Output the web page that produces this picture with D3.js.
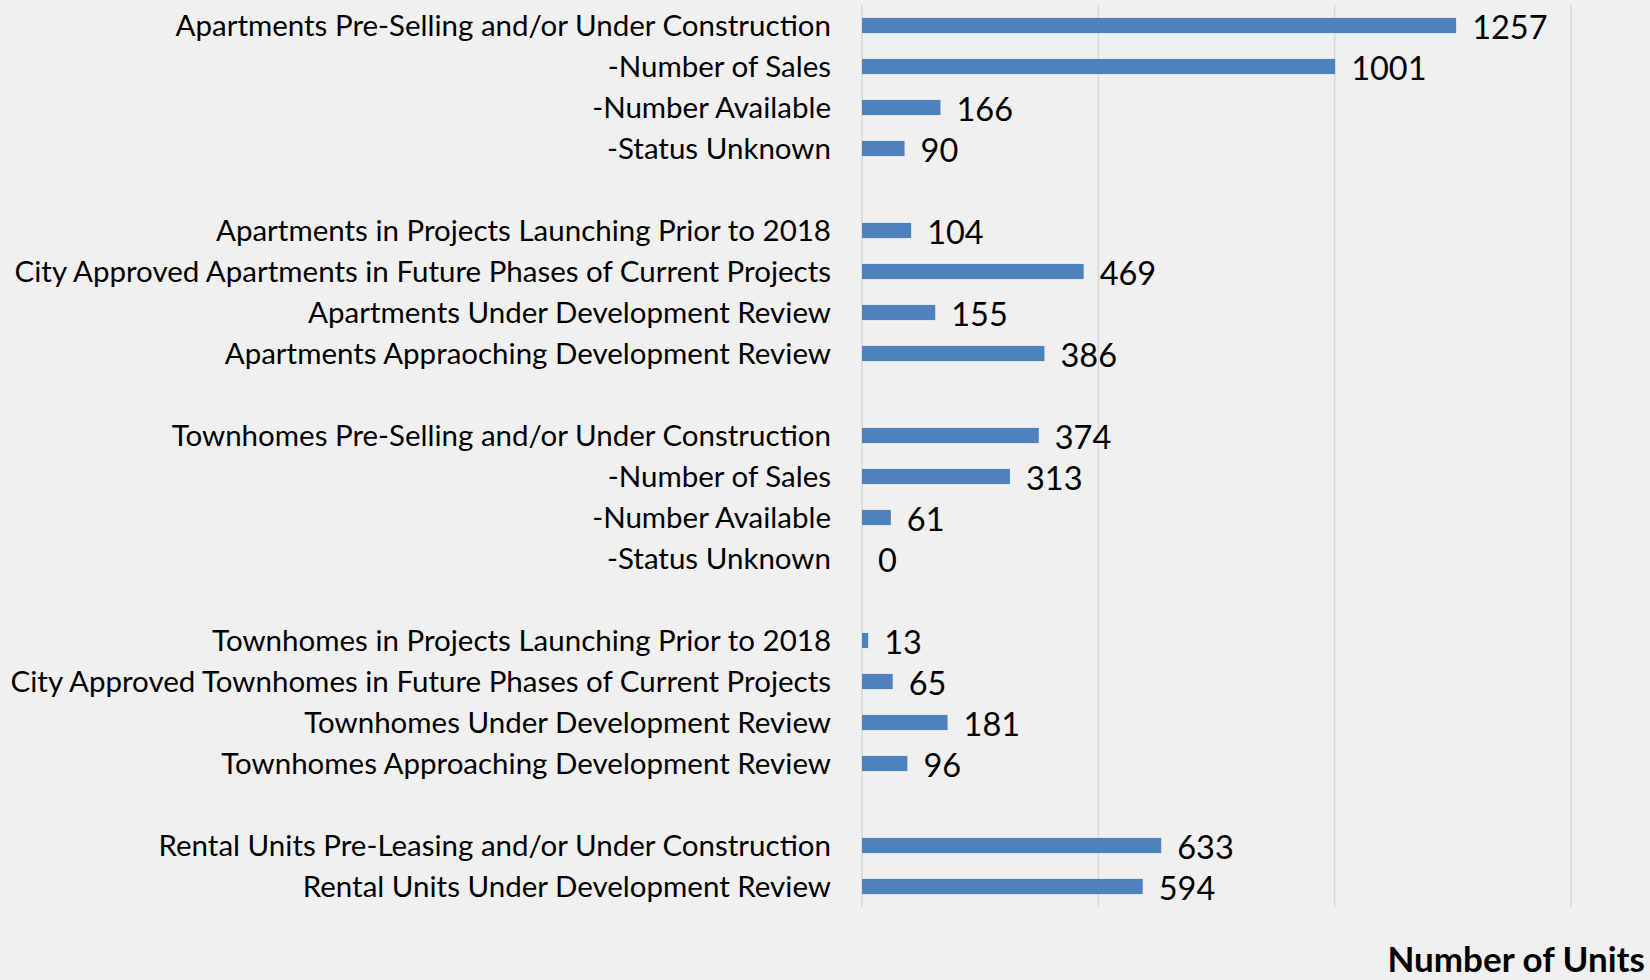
<!DOCTYPE html>
<html>
<head>
<meta charset="utf-8">
<script src="https://cdn.jsdelivr.net/npm/d3@7"></script>
<style>
  html, body { margin: 0; padding: 0; background: #f0f0f0; }
  svg { display: block; }
</style>
</head>
<body>
<svg id="chart" width="1650" height="980"></svg>
<script>
// ---- data ----
const categories = [
  "Apartments Pre-Selling and/or Under Construction",
  "-Number of Sales",
  "-Number Available",
  "-Status Unknown",
  "",
  "Apartments in Projects Launching Prior to 2018",
  "City Approved Apartments in Future Phases of Current Projects",
  "Apartments Under Development Review",
  "Apartments Appraoching Development Review",
  "",
  "Townhomes Pre-Selling and/or Under Construction",
  "-Number of Sales",
  "-Number Available",
  "-Status Unknown",
  "",
  "Townhomes in Projects Launching Prior to 2018",
  "City Approved Townhomes in Future Phases of Current Projects",
  "Townhomes Under Development Review",
  "Townhomes Approaching Development Review",
  "",
  "Rental Units Pre-Leasing and/or Under Construction",
  "Rental Units Under Development Review"
];
const values = [1257, 1001, 166, 90, null, 104, 469, 155, 386, null,
                374, 313, 61, 0, null, 13, 65, 181, 96, null, 633, 594];
const xTicks = [0, 500, 1000, 1500];
const xDomain = [0, 1500];
const axisTitle = "Number of Units";

// ---- layout ----
const svg = d3.select("#chart");
const plotLeft = 862, plotRight = 1571, plotTop = 5, plotBottom = 907;

const rows = categories.map((c, i) => ({ key: i, label: c, value: values[i] }));

const x = d3.scaleLinear().domain(xDomain).range([plotLeft, plotRight]);
const y = d3.scaleBand().domain(rows.map(d => d.key)).range([plotTop, plotBottom])
  .paddingInner(0.63).paddingOuter(0.315);

// gridlines
svg.append("g").selectAll("line").data(xTicks).join("line")
  .attr("x1", d => x(d)).attr("x2", d => x(d))
  .attr("y1", plotTop).attr("y2", plotBottom)
  .attr("stroke", "#d9d9d9").attr("stroke-width", 1.5);

// bars
const dataRows = rows.filter(d => d.value !== null);
svg.append("g").selectAll("rect").data(dataRows).join("rect")
  .attr("x", x(0))
  .attr("y", d => y(d.key))
  .attr("width", d => x(d.value) - x(0))
  .attr("height", y.bandwidth())
  .attr("fill", "#4f81bd");

// value labels
svg.append("g").selectAll("text").data(dataRows).join("text")
  .attr("x", d => x(d.value) + 16)
  .attr("y", d => y(d.key) + y.bandwidth() / 2 + 13.5)
  .attr("font-family", "Lato, 'Open Sans', sans-serif")
  .attr("font-size", 32.5)
  .attr("fill", "#000")
  .text(d => d.value);

// category labels
svg.append("g").selectAll("text").data(rows.filter(d => d.label)).join("text")
  .attr("x", 831)
  .attr("y", d => y(d.key) + y.bandwidth() / 2 + 10)
  .attr("text-anchor", "end")
  .attr("font-family", "Lato, 'Open Sans', sans-serif")
  .attr("font-size", 29.5)
  .attr("fill", "#000")
  .text(d => d.label);

// axis title
svg.append("text")
  .attr("x", 1645).attr("y", 972)
  .attr("text-anchor", "end")
  .attr("font-family", "Lato, 'Open Sans', sans-serif")
  .attr("font-weight", "bold")
  .attr("font-size", 35)
  .attr("fill", "#000")
  .text(axisTitle);
</script>
</body>
</html>
